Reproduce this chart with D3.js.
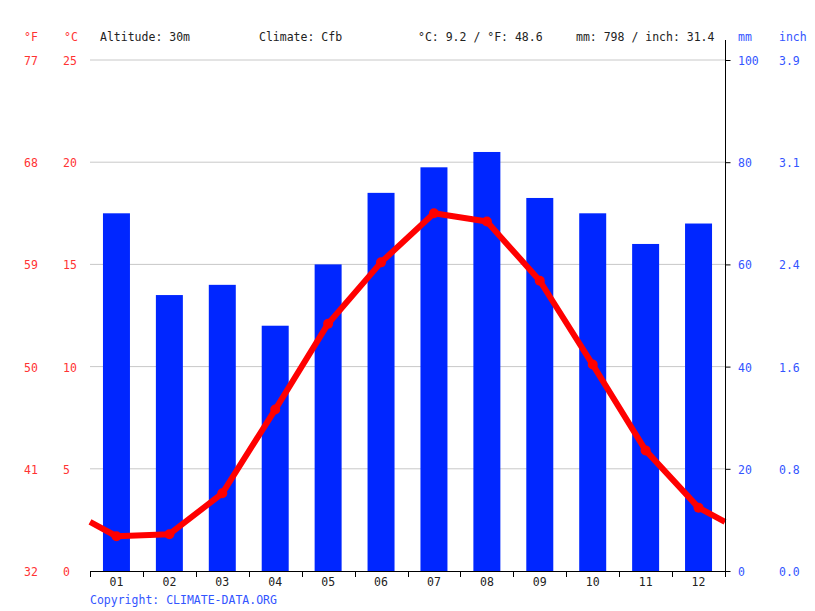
<!DOCTYPE html>
<html><head><meta charset="utf-8">
<script src="https://cdn.jsdelivr.net/npm/d3@7"></script>
<style>body{margin:0;background:#fff}svg{display:block}text{font-family:"DejaVu Sans Mono",monospace;font-size:11.5px}</style>
</head><body><svg id="c" width="815" height="611"></svg>
<script>
const months = ["01","02","03","04","05","06","07","08","09","10","11","12"];
const precipMm = [70,54,56,48,60,74,79,82,73,70,64,68];
const tempC = [1.7,1.8,3.8,7.9,12.1,15.1,17.5,17.1,14.2,10.1,5.9,3.1];
const cTicks = [0,5,10,15,20,25];
const fTicks = ["32","41","50","59","68","77"];
const mmTicks = [0,20,40,60,80,100];
const inchTicks = ["0.0","0.8","1.6","2.4","3.1","3.9"];
const header = [
  {t:"Altitude: 30m", x:100},
  {t:"Climate: Cfb", x:259},
  {t:"°C: 9.2 / °F: 48.6", x:418},
  {t:"mm: 798 / inch: 31.4", x:576}
];

const svg = d3.select("#c");
const L=90, R=725, T=60, B=571;
const RED="#ff0000", BLUE="#0026ff", LBLUE="#3355ff", LRED="#ff3333";
const x = d3.scaleBand().domain(months).range([L,R]).paddingInner(0.49).paddingOuter(0.245);
const xb = d3.scaleBand().domain(months).range([L,R]);
const yC = d3.scaleLinear().domain([0,25]).range([B,T]);
const yMm = d3.scaleLinear().domain([0,100]).range([B,T]);

// gridlines
svg.append("g").selectAll("line").data(cTicks.filter(d=>d>0)).join("line")
  .attr("x1",L).attr("x2",R).attr("y1",d=>yC(d)).attr("y2",d=>yC(d))
  .attr("stroke","#c8c8c8").attr("stroke-width",1);

// bars
svg.append("g").selectAll("rect").data(months).join("rect")
  .attr("x",d=>x(d)).attr("width",x.bandwidth())
  .attr("y",(d,i)=>yMm(precipMm[i])).attr("height",(d,i)=>B-yMm(precipMm[i]))
  .attr("fill",BLUE);

// temperature line with wrap-around edges
const edge = (tempC[0]+tempC[11])/2;
const pts = [[L,yC(edge)]].concat(months.map((m,i)=>[xb(m)+xb.bandwidth()/2,yC(tempC[i])])).concat([[R,yC(edge)]]);
svg.append("path").attr("d",d3.line()(pts)).attr("fill","none")
  .attr("stroke",RED).attr("stroke-width",6).attr("stroke-linejoin","round");
svg.append("g").selectAll("circle").data(months).join("circle")
  .attr("cx",d=>xb(d)+xb.bandwidth()/2).attr("cy",(d,i)=>yC(tempC[i])).attr("r",5).attr("fill",RED);

// bottom axis
const gx = svg.append("g").attr("transform",`translate(0,${B+0.5})`)
  .call(d3.axisBottom(xb).tickSize(0).tickPadding(6));
gx.select(".domain").attr("stroke","#000").attr("d",`M${L},0H${R}`);
gx.selectAll("text").attr("fill","#222").attr("font-size","11.5px").attr("font-family","DejaVu Sans Mono");
svg.append("g").selectAll("line").data(d3.range(13)).join("line")
  .attr("x1",i=>Math.round(L+i*xb.step())+0.5).attr("x2",i=>Math.round(L+i*xb.step())+0.5)
  .attr("y1",B).attr("y2",B+6).attr("stroke","#000");

// right axis
const gr = svg.append("g").attr("transform",`translate(${R+0.5},0)`)
  .call(d3.axisRight(yMm).tickValues(mmTicks).tickSize(5).tickFormat(""));
gr.select(".domain").attr("d",`M0,40V576`).attr("stroke","#000");

// left labels
svg.append("g").selectAll("text").data(cTicks).join("text")
  .attr("x",63).attr("y",d=>yC(d)+5).attr("fill",LRED).text(d=>d);
svg.append("g").selectAll("text").data(fTicks).join("text")
  .attr("x",24).attr("y",(d,i)=>yC(cTicks[i])+5).attr("fill",LRED).text(d=>d);
// right labels
svg.append("g").selectAll("text").data(mmTicks).join("text")
  .attr("x",738).attr("y",d=>yMm(d)+5).attr("fill",LBLUE).text(d=>d);
svg.append("g").selectAll("text").data(inchTicks).join("text")
  .attr("x",779).attr("y",(d,i)=>yMm(mmTicks[i])+5).attr("fill",LBLUE).text(d=>d);

// header
svg.append("text").attr("x",24).attr("y",41).attr("fill",LRED).text("°F");
svg.append("text").attr("x",64).attr("y",41).attr("fill",LRED).text("°C");
svg.append("text").attr("x",738).attr("y",41).attr("fill",LBLUE).text("mm");
svg.append("text").attr("x",779).attr("y",41).attr("fill",LBLUE).text("inch");
svg.append("g").selectAll("text").data(header).join("text")
  .attr("x",d=>d.x).attr("y",41).attr("fill","#222").text(d=>d.t);
svg.append("text").attr("x",90).attr("y",604).attr("fill",LBLUE).text("Copyright: CLIMATE-DATA.ORG");
</script></body></html>
